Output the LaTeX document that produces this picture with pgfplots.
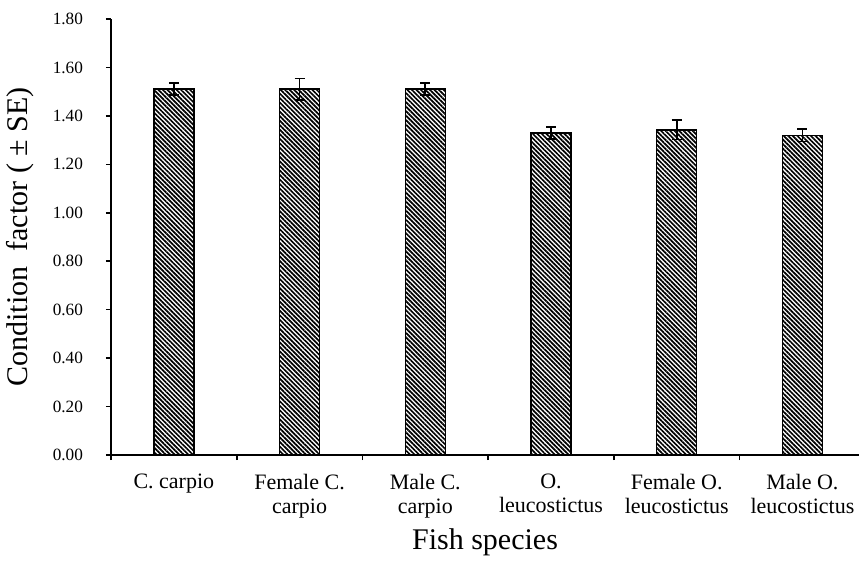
\documentclass[border=0pt]{standalone}
\usepackage{fontspec}
\setmainfont{Liberation Serif}
\usepackage{pgfplots}
\pgfplotsset{compat=1.18}
\usetikzlibrary{patterns.meta}

\pgfplotstableread{
x y e
0 1.512 0.025
1 1.510 0.045
2 1.512 0.025
3 1.330 0.025
4 1.342 0.040
5 1.320 0.025
}\datatable

\begin{document}
\begin{tikzpicture}
\begin{axis}[
  name=ax,
  scale only axis,
  width=374pt, height=218pt,
  xmin=-0.5, xmax=5.45,
  ymin=0, ymax=1.8,
  axis x line=bottom, axis y line=left,
  axis line style={-, line width=0.8pt, black},
  tick align=outside,
  major tick length=2.5pt,
  tick style={line width=0.8pt, black},
  xtick={-0.5,0.5,1.5,2.5,3.5,4.5},
  xticklabels={},
  extra x ticks={0,1,2,3,4,5},
  extra x tick labels={C. carpio, Female C.\\carpio, Male C.\\carpio, O.\\leucostictus, Female O.\\leucostictus, Male O.\\leucostictus},
  extra x tick style={major tick length=0pt, tick style={draw=none},
    xticklabel style={align=center, font=\fontsize{11}{12}\selectfont, yshift=-6pt}},
  ytick={0,0.2,...,1.8},
  yticklabel style={font=\fontsize{8.6}{10}\selectfont, xshift=-8pt,
    /pgf/number format/.cd, fixed, fixed zerofill, precision=2, assume math mode=true},
  ylabel={Condition\ \ factor ( ± SE)},
  ylabel style={at={(axis description cs:-0.1217,0.5)}, anchor=center, font=\fontsize{15}{17}\selectfont},
  xlabel={Fish species},
  xlabel style={at={(axis description cs:0.5,-0.2)}, anchor=center, font=\fontsize{15}{17}\selectfont},
  clip=false,
]
\addplot[ybar, bar width=20pt, draw=black, line width=0.75pt,
  pattern={Lines[angle=-45, distance=1.6pt, line width=0.85pt]}, pattern color=black,
  error bars/.cd, y dir=both, y explicit,
  error bar style={line width=0.8pt, black, solid},
  error mark options={line width=0.8pt, black, mark size=2.5pt, rotate=90}]
  table[x=x, y=y, y error=e]{\datatable};
\end{axis}
\pgfresetboundingbox
\path[use as bounding box] ([xshift=-55.5pt,yshift=-59.5pt]ax.south west) rectangle ([yshift=9.5pt]ax.north east);
\end{tikzpicture}
\end{document}
